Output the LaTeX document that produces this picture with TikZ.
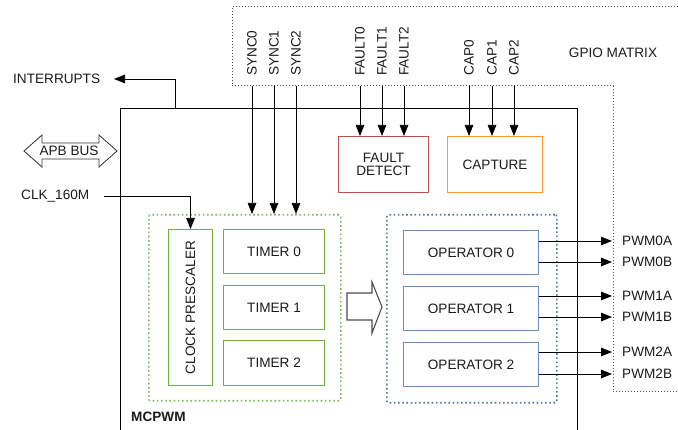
\documentclass[tikz,border=0pt]{standalone}
\usepackage{fontspec}
\setmainfont{Liberation Sans}
\usetikzlibrary{arrows.meta}
\definecolor{cred}{HTML}{B85450}
\definecolor{corange}{HTML}{FF9933}
\definecolor{cgreen}{HTML}{7DB85A}
\definecolor{cgreenbox}{HTML}{6FAF46}
\definecolor{cblue}{HTML}{6C8EBF}
\definecolor{cbluedot}{HTML}{56739E}
\definecolor{ctext}{HTML}{1A1A1A}
\begin{document}
\begin{tikzpicture}[x=1pt,y=-1pt,
  font=\fontsize{13.6}{15.5}\selectfont, text=ctext,
  arr/.style={-{Triangle[length=11pt,width=8.5pt]}, line width=0.75pt},
  lbl/.style={inner sep=0pt},
  vlbl/.style={inner sep=0pt, rotate=90, anchor=west},
  boxbase/.style={draw, line width=1.1pt, anchor=north west, inner sep=0pt, align=center},
  redbox/.style={boxbase, draw=cred},
  orangebox/.style={boxbase, draw=corange},
  greenbox/.style={boxbase, draw=cgreenbox},
  bluebox/.style={boxbase, draw=cblue},
  gpiostyle/.style={draw=black!70, line width=1pt, dash pattern=on 1pt off 2pt},
  groupstyle/.style={line width=1.6pt, dash pattern=on 1.6pt off 2.6pt, anchor=north west, inner sep=0pt, rounded corners=2pt},
]
\useasboundingbox (0,0) rectangle (678,430);

% GPIO matrix outline
\draw[gpiostyle] (690,7) -- (232,7) -- (232,86) -- (613,86) -- (613,392) -- (690,392);
\node[lbl] (gpio) at (613,53) {GPIO MATRIX};

% MCPWM outline
\draw[line width=0.8pt] (120,440) -- (120,108) -- (577,108) -- (577,440);
\node[lbl, anchor=west, font=\fontsize{13.6}{15.5}\selectfont\bfseries] (mcpwm) at (131,417) {MCPWM};

% Interrupts
\node[lbl, anchor=west] (intr) at (13,79) {INTERRUPTS};
\coordinate (intsrc) at (175,108);
\coordinate (intdst) at (114,79);
\draw[arr] (intsrc) -- (intsrc |- intdst) -- (intdst);

% APB bus
\draw[line width=0.8pt, draw=black!80] (24,151) -- (42,135) -- (42,143) -- (99,143) -- (99,135) -- (117,151)
  -- (99,167) -- (99,159) -- (42,159) -- (42,167) -- cycle;
\node[lbl] (apb) at (69,151) {APB BUS};

% CLK
\node[lbl, anchor=west] (clk) at (21,196) {CLK\_160M};

% top labels
\node[vlbl] (s0) at (252,76) {SYNC0};
\node[vlbl] (s1) at (274,76) {SYNC1};
\node[vlbl] (s2) at (296,76) {SYNC2};
\node[vlbl] (f0) at (360,76) {FAULT0};
\node[vlbl] (f1) at (382,76) {FAULT1};
\node[vlbl] (f2) at (404,76) {FAULT2};
\node[vlbl] (c0) at (469,76) {CAP0};
\node[vlbl] (c1) at (492,76) {CAP1};
\node[vlbl] (c2) at (514,76) {CAP2};

% fault & capture
\node[redbox, minimum width=90pt, minimum height=56pt] (fault) at (338,136) {FAULT\\[-2pt]DETECT};
\node[orangebox, minimum width=95pt, minimum height=56pt] (capture) at (447,136) {CAPTURE};

% green group
\node[groupstyle, draw=cgreen, minimum width=192pt, minimum height=186pt] (ggroup) at (148,214) {};
\node[greenbox, minimum width=44pt, minimum height=156pt] (clkp) at (168,229) {};
\node[lbl, rotate=90] at (clkp.center) {CLOCK PRESCALER};
\node[greenbox, minimum width=101pt, minimum height=44pt] (t0) at (223,229) {TIMER 0};
\node[greenbox, minimum width=101pt, minimum height=44pt] (t1) at (223,285) {TIMER 1};
\node[greenbox, minimum width=101pt, minimum height=45pt] (t2) at (223,340) {TIMER 2};

% blue group
\node[groupstyle, draw=cbluedot, minimum width=170pt, minimum height=188pt] (bgroup) at (386,214) {};
\node[bluebox, minimum width=135pt, minimum height=44pt] (op0) at (403,230) {OPERATOR 0};
\node[bluebox, minimum width=135pt, minimum height=44pt] (op1) at (403,286) {OPERATOR 1};
\node[bluebox, minimum width=135pt, minimum height=44pt] (op2) at (403,342) {OPERATOR 2};

% hollow arrow
\draw[line width=1.1pt, draw=black!70] (347,293) -- (372,293) -- (372,282) -- (382,307) -- (372,333) -- (372,320) -- (347,320) -- cycle;

% clk connector
\draw[arr] (clk.east) ++(15,0) coordinate (clks) -- (clks -| clkp.north) -- (clkp.north);

% sync arrows
\foreach \n in {s0,s1,s2}{
  \draw[arr] (\n.west |- 0,86) -- (\n.west |- ggroup.north);
}
\foreach \n in {f0,f1,f2}{
  \draw[arr] (\n.west |- 0,86) -- (\n.west |- fault.north);
}
\foreach \n in {c0,c1,c2}{
  \draw[arr] (\n.west |- 0,86) -- (\n.west |- capture.north);
}

% PWM outputs
\node[lbl, anchor=west] (p0a) at (622,241) {PWM0A};
\node[lbl, anchor=west] (p0b) at (622,262) {PWM0B};
\node[lbl, anchor=west] (p1a) at (622,296) {PWM1A};
\node[lbl, anchor=west] (p1b) at (622,317) {PWM1B};
\node[lbl, anchor=west] (p2a) at (622,352) {PWM2A};
\node[lbl, anchor=west] (p2b) at (622,374) {PWM2B};
\foreach \o/\p in {op0/p0a,op0/p0b,op1/p1a,op1/p1b,op2/p2a,op2/p2b}{
  \draw[arr] (\o.east |- \p.west) -- ([xshift=-10pt]\p.west);
}
\end{tikzpicture}
\end{document}
